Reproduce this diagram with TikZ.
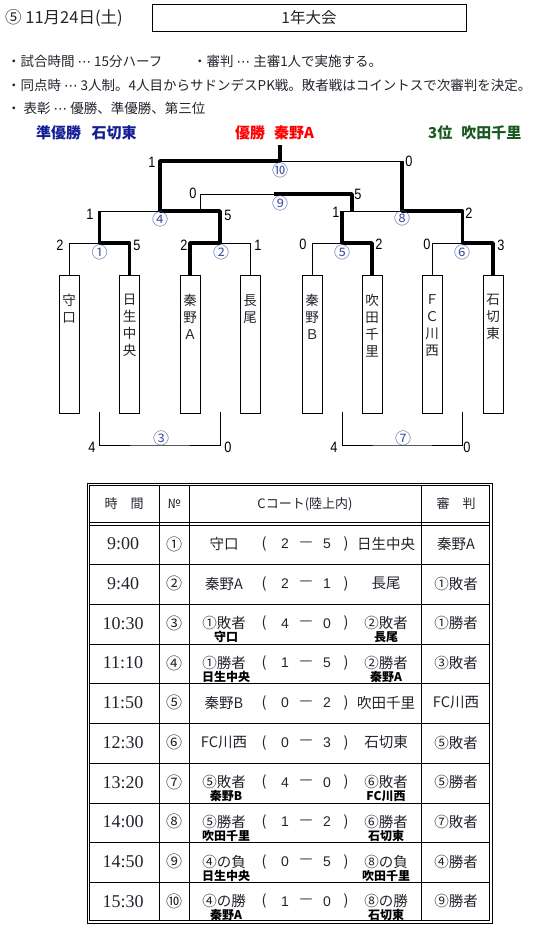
\documentclass[tikz,border=0pt]{standalone}
\usepackage{fontspec}
\setmainfont{Liberation Serif}
\newfontfamily\jp{Noto Sans CJK JP}
\newfontfamily\djv{DejaVu Sans}
\newfontfamily\numf[FakeStretch=0.85]{Liberation Sans}
\newfontfamily\numt{Liberation Sans}
\newcommand\mdots{{\djv ⋯}}
\definecolor{txt}{RGB}{35,35,45}
\definecolor{circc}{RGB}{70,85,160}
\definecolor{blu}{RGB}{20,30,150}
\definecolor{grn}{RGB}{25,90,35}
\tikzset{
  win/.style={line width=3.6pt, line join=round},
  lose/.style={line width=0.8pt},
  team/.style={draw, line width=0.8pt, minimum width=20pt, minimum height=138pt, anchor=north, inner sep=0pt},
  tname/.style={font=\jp\fontsize{13.5}{17}\selectfont, align=center, anchor=north, inner sep=0pt, text=txt},
  score/.style={font=\numf\fontsize{15}{15}\selectfont, inner sep=0pt},
  mno/.style={font=\jp\fontsize{16}{16}\selectfont, text=circc, inner sep=0pt},
  hdr/.style={font=\jp\fontsize{13.5}{13.5}\selectfont, inner sep=0pt, anchor=west, text=txt},
  medal/.style={font=\jp\bfseries\fontsize{15}{15}\selectfont, inner sep=0pt, anchor=west},
  ttime/.style={font=\fontsize{18}{18}\selectfont, inner sep=0pt, text=txt},
  tno/.style={font=\jp\fontsize{16}{16}\selectfont, inner sep=0pt, text=txt},
  tjp/.style={font=\jp\fontsize{14.5}{14.5}\selectfont, inner sep=0pt, text=txt},
  tsc/.style={font=\numt\fontsize{14}{14}\selectfont, inner sep=0pt, text=txt},
  tsb/.style={font=\jp\bfseries\fontsize{12}{12}\selectfont, inner sep=0pt, text=black},
  thd/.style={font=\jp\fontsize{13}{13}\selectfont, inner sep=0pt, text=txt},
}
\newcommand\TRow[8]{%
  \node[ttime] (tm#1) at (123,{544+39.7*#1}) {#2};
  \node[tno] (no#1) at (174,{544+39.7*#1}) {#3};
  \node[tjp] (lt#1) at (224,{544+39.7*#1}) {#4};
  \node[tjp] (pa#1) at (264,{544+39.7*#1}) {(};
  \node[tsc] (sa#1) at (285,{544+39.7*#1}) {#5};
  \node[tjp] (da#1) at (306,{544+39.7*#1}) {—};
  \node[tsc] (sb#1) at (327,{544+39.7*#1}) {#6};
  \node[tjp] (pb#1) at (346,{544+39.7*#1}) {)};
  \node[tjp] (rt#1) at (386,{544+39.7*#1}) {#7};
  \node[tjp] (rf#1) at (456,{544+39.7*#1}) {#8};
}
\newcommand\TSub[3]{%
  \node[tsb] (sl#1) at (226,{558+39.7*#1}) {#2};
  \node[tsb] (sr#1) at (386,{558+39.7*#1}) {#3};
}
\begin{document}
\begin{tikzpicture}[x=1pt,y=-1pt]
\useasboundingbox (0,0) rectangle (536,929);

% header
\node[font=\jp\fontsize{16.5}{16.5}\selectfont, inner sep=0pt, anchor=west, text=txt] (date) at (5,18) {⑤ 11月24日(土)};
\node[draw, line width=0.8pt, minimum width=314pt, minimum height=27pt, inner sep=0pt,
      font=\jp\fontsize{15.5}{15.5}\selectfont, text=txt] (title) at (309,17.5) {1年大会};
\node[hdr] (r1a) at (7,61) {・試合時間 \mdots{} 15分ハーフ};
\node[hdr] (r1b) at (193,61) {・審判 \mdots{} 主審1人で実施する。};
\node[hdr] (r2) at (7,85) {・同点時 \mdots{} 3人制。4人目からサドンデスPK戦。敗者戦はコイントスで次審判を決定。};
\node[hdr] (r3) at (7,108) {・ 表彰 \mdots{} 優勝、準優勝、第三位};

% medals
\node[medal, text=blu] (second) at (36,133) {準優勝\hspace{0.7em}石切東};
\node[medal, text=red] (first) at (235,133) {優勝\hspace{0.6em}秦野A};
\node[medal, text=grn] (third) at (428,133) {3位\hspace{0.6em}吹田千里};

% team boxes
\node[team] (t1) at (69,275) {};
\node[team] (t2) at (129.5,275) {};
\node[team] (t3) at (190,275) {};
\node[team] (t4) at (250,275) {};
\node[team] (t5) at (312,275) {};
\node[team] (t6) at (372,275) {};
\node[team] (t7) at (432,275) {};
\node[team] (t8) at (493,275) {};
\node[tname] (n1) at (69,294) {守\\口};
\node[tname] (n2) at (129.5,294) {日\\生\\中\\央};
\node[tname] (n3) at (190,294) {秦\\野\\Ａ};
\node[tname] (n4) at (250,294) {長\\尾};
\node[tname] (n5) at (312,294) {秦\\野\\Ｂ};
\node[tname] (n6) at (372,294) {吹\\田\\千\\里};
\node[tname] (n7) at (432,294) {Ｆ\\Ｃ\\川\\西};
\node[tname] (n8) at (493,294) {石\\切\\東};

% bracket points
\coordinate (m1) at (99.5,243);
\coordinate (m2) at (220,243);
\coordinate (m5) at (342,243);
\coordinate (m6) at (462.5,243);
\coordinate (m4) at (160,211);
\coordinate (m8) at (402,211);
\coordinate (m10) at (280,161);
\coordinate (champ) at (280,145);
\coordinate (m9) at (274,194);
\coordinate (p9a) at (200,211);
\coordinate (p9b) at (352,211);
\coordinate (b1) at (99.5,412);
\coordinate (b2) at (220,412);
\coordinate (m3) at (160,445);
\coordinate (b5) at (342,412);
\coordinate (b6) at (462,412);
\coordinate (m7) at (402,445);

% thin (losing) lines
\draw[lose] (t1.north) |- (m1);
\draw[lose] (t4.north) |- (m2);
\draw[lose] (m1 |- m4) -- (m4);
\draw[lose] (t5.north) |- (m5);
\draw[lose] (t7.north) |- (m6);
\draw[lose] (m5 |- m8) -- (m8);
\draw[lose] (m10) -- (m8 |- m10);
\draw[lose] (p9a) |- (m9);
\draw[lose] (b1) |- (m3) -| (b2);
\draw[lose] (b5) |- (m7) -| (b6);
% thick (winning) lines
\draw[win] (t2.north) |- (m1) -- (m1 |- m4);
\draw[win] (t3.north) |- (m2) |- (m4) |- (m10) -- (champ);
\draw[win] (t6.north) |- (m5) -- (m5 |- m8);
\draw[win] (t8.north) |- (m6) |- (m8) -- (m8 |- m10);
\draw[win] (p9b) |- (m9);

% match numbers
\node[mno] (c1) at (99.5,252) {①};
\node[mno] (c2) at (221,252) {②};
\node[mno] (c3) at (161,438) {③};
\node[mno] (c4) at (160,219) {④};
\node[mno] (c5) at (342,252) {⑤};
\node[mno] (c6) at (462,252) {⑥};
\node[mno] (c7) at (403,438) {⑦};
\node[mno] (c8) at (402,218) {⑧};
\node[mno] (c9) at (280,203) {⑨};
\node[mno] (c10) at (280,170) {⑩};

% scores
\node[score] (s1a) at (60,245) {2};
\node[score] (s1b) at (137,245) {5};
\node[score] (s2a) at (184,245) {2};
\node[score] (s2b) at (258,245) {1};
\node[score] (s5a) at (303,244) {0};
\node[score] (s5b) at (379,244) {2};
\node[score] (s6a) at (427,244) {0};
\node[score] (s6b) at (501,245) {3};
\node[score] (s4a) at (90,214) {1};
\node[score] (s4b) at (228,215) {5};
\node[score] (s8a) at (336,212) {1};
\node[score] (s8b) at (469,213) {2};
\node[score] (s9a) at (193,193) {0};
\node[score] (s9b) at (358,194) {5};
\node[score] (s10a) at (152,162) {1};
\node[score] (s10b) at (409,161) {0};
\node[score] (s3a) at (92,447) {4};
\node[score] (s3b) at (228,447) {0};
\node[score] (s7a) at (334,447) {4};
\node[score] (s7b) at (467,447) {0};

% table frame
\draw[lose] (87,483) rectangle (492,923);
\draw[lose] (89.5,485.5) rectangle (489.5,920.5);
\foreach \cx in {159,189,421} \draw[lose] (\cx,485.5) -- (\cx,920.5);
\draw[lose] (89.5,522.5) -- (489.5,522.5);
\draw[lose] (89.5,525) -- (489.5,525);
\foreach \k in {1,...,9} \draw[lose] (89.5,{525+39.7*\k}) -- (489.5,{525+39.7*\k});

% table header
\node[thd] (h1) at (124,504) {時　間};
\node[thd] (h2) at (174,504) {№};
\node[thd] (h3) at (305,504) {Cコート(陸上内)};
\node[thd] (h4) at (456,504) {審　判};

% table rows
\TRow{0}{9:00}{①}{守口}{2}{5}{日生中央}{秦野A}
\TRow{1}{9:40}{②}{秦野A}{2}{1}{長尾}{①敗者}
\TRow{2}{10:30}{③}{①敗者}{4}{0}{②敗者}{①勝者}
\TRow{3}{11:10}{④}{①勝者}{1}{5}{②勝者}{③敗者}
\TRow{4}{11:50}{⑤}{秦野B}{0}{2}{吹田千里}{FC川西}
\TRow{5}{12:30}{⑥}{FC川西}{0}{3}{石切東}{⑤敗者}
\TRow{6}{13:20}{⑦}{⑤敗者}{4}{0}{⑥敗者}{⑤勝者}
\TRow{7}{14:00}{⑧}{⑤勝者}{1}{2}{⑥勝者}{⑦敗者}
\TRow{8}{14:50}{⑨}{④の負}{0}{5}{⑧の負}{④勝者}
\TRow{9}{15:30}{⑩}{④の勝}{1}{0}{⑧の勝}{⑨勝者}
\TSub{2}{守口}{長尾}
\TSub{3}{日生中央}{秦野A}
\TSub{6}{秦野B}{FC川西}
\TSub{7}{吹田千里}{石切東}
\TSub{8}{日生中央}{吹田千里}
\TSub{9}{秦野A}{石切東}
\end{tikzpicture}
\end{document}
